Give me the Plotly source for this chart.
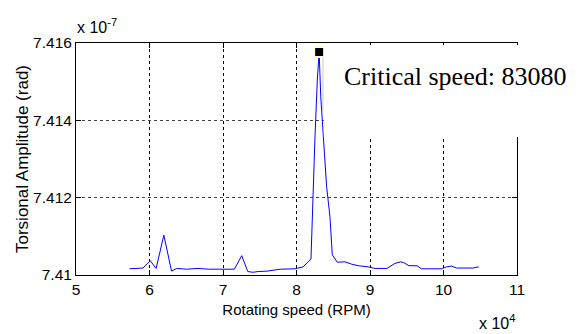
import plotly.graph_objects as go

# Rotating speed in units of 1e4 RPM, amplitude in units of 1e-7 rad
speed_e4 = [5.728, 5.91, 6.01, 6.09, 6.195, 6.30, 6.37, 6.50, 6.66, 6.80, 6.95,
            7.155, 7.255, 7.337, 7.405, 7.48, 7.60, 7.70, 7.78, 7.98, 8.09,
            8.197, 8.215, 8.25, 8.283, 8.308, 8.33, 8.357, 8.41, 8.455, 8.487,
            8.555, 8.66, 8.75, 8.84, 8.975, 9.07, 9.23, 9.34, 9.415, 9.46,
            9.53, 9.64, 9.70, 9.77, 9.87, 9.97, 10.04, 10.11, 10.18, 10.40, 10.48]
amplitude_e7 = [7.41016, 7.41018, 7.41037, 7.41017, 7.41103, 7.41010, 7.41017,
                7.41015, 7.41017, 7.41015, 7.41015, 7.41015, 7.41050, 7.41009,
                7.41007, 7.41009, 7.41010, 7.41013, 7.41015, 7.41016, 7.41021,
                7.41041, 7.41168, 7.41349, 7.41504, 7.41577, 7.41461, 7.41375,
                7.41228, 7.41151, 7.41052, 7.41033, 7.41034, 7.41028, 7.41024,
                7.41021, 7.41017, 7.41017, 7.41030, 7.41034, 7.41032, 7.41024,
                7.41024, 7.41016, 7.41016, 7.41015, 7.41016, 7.41021, 7.41023,
                7.41018, 7.41018, 7.41021]

critical_speed = 83080
x_ticks = [5, 6, 7, 8, 9, 10, 11]
y_ticks = [7.41, 7.412, 7.414, 7.416]
y_ticklabels = ["7.41", "7.412", "7.414", "7.416"]

peak_idx = amplitude_e7.index(max(amplitude_e7))

fig = go.Figure()
fig.add_trace(go.Scatter(x=speed_e4, y=amplitude_e7, mode="lines",
                         line=dict(color="#0000ff", width=1),
                         hoverinfo="skip", showlegend=False))
fig.add_trace(go.Scatter(x=[critical_speed / 1e4], y=[amplitude_e7[peak_idx]],
                         mode="markers",
                         marker=dict(symbol="square", size=10, color="black",
                                     line=dict(color="#fffbd0", width=2)),
                         hoverinfo="skip", showlegend=False, cliponaxis=False))

sans = "Liberation Sans, Arial"
tickfont = dict(family=sans, size=15.5, color="black")

fig.update_layout(
    width=580, height=334,
    margin=dict(l=76, r=63, t=43, b=59, autoexpand=False),
    paper_bgcolor="white", plot_bgcolor="white",
    xaxis=dict(range=[5, 11], tickvals=x_ticks, ticks="inside", ticklen=5,
               tickcolor="black", showline=True, linecolor="black", linewidth=1,
               mirror="ticks", showgrid=True, gridcolor="black", griddash="3px,3px",
               gridwidth=1, zeroline=False, tickfont=tickfont,
               title=dict(text="Rotating speed (RPM)", standoff=7,
                          font=dict(family=sans, size=15, color="black"))),
    yaxis=dict(range=[7.41, 7.416], tickvals=y_ticks, ticktext=y_ticklabels,
               ticks="inside", ticklen=5, tickcolor="black", showline=True,
               linecolor="black", linewidth=1, mirror="ticks", showgrid=True,
               gridcolor="#444444", griddash="3px,3px", gridwidth=1, zeroline=False,
               tickfont=tickfont,
               title=dict(text="Torsional Amplitude (rad)", standoff=0,
                          font=dict(family=sans, size=17, color="black"))),
    shapes=[
        dict(type="rect", xref="paper", yref="paper", x0=0.562, x1=1.2,
             y0=0.595, y1=0.991, fillcolor="white", line=dict(width=0), layer="above"),
        dict(type="line", xref="paper", yref="paper", x0=0.560, x1=0.560,
             y0=0.702, y1=0.935, line=dict(color="#c8c8c8", width=1), layer="above"),
    ],
    annotations=[
        dict(text=f"Critical speed: {critical_speed}", xref="paper", yref="paper",
             x=0.86, y=0.855, xanchor="center", yanchor="middle", showarrow=False,
             font=dict(family="Liberation Serif, Times New Roman", size=26, color="black")),
        dict(text="x 10<sup>-7</sup>", xref="paper", yref="paper", x=-0.003, y=1.02,
             xanchor="left", yanchor="bottom", showarrow=False,
             font=dict(family=sans, size=16, color="black")),
        dict(text="x 10<sup>4</sup>", xref="paper", yref="paper", x=1.0, y=-0.255,
             xanchor="right", yanchor="bottom", showarrow=False,
             font=dict(family=sans, size=16, color="black")),
    ],
)

fig.write_html("out.html")
